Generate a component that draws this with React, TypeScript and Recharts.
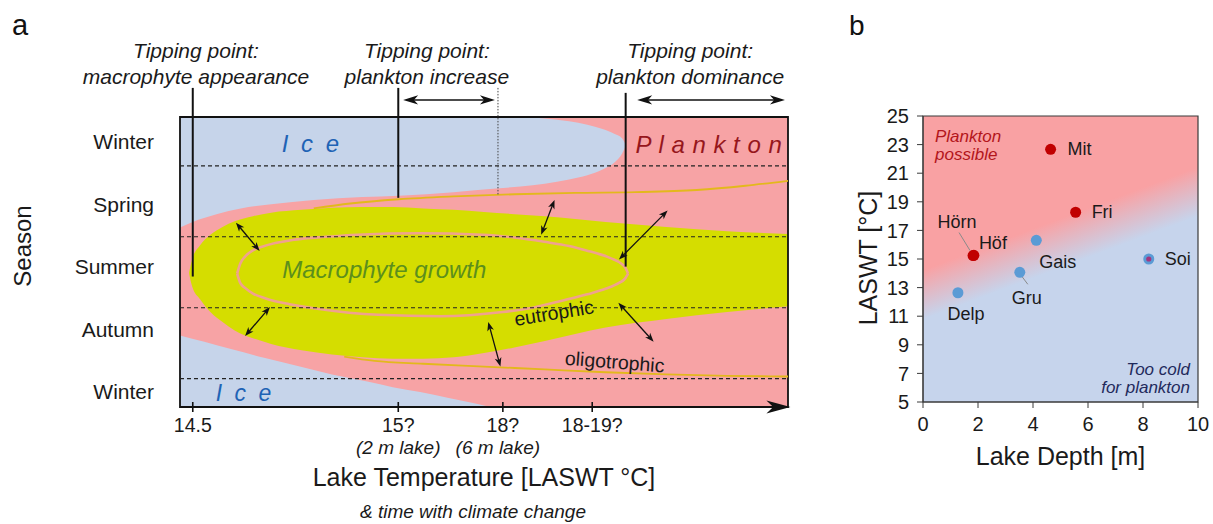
import React from 'react';
import {
  ComposedChart,
  ScatterChart,
  Area,
  Line,
  Scatter,
  XAxis,
  YAxis,
  ReferenceArea,
  ReferenceLine,
  ReferenceDot,
} from 'recharts';

const FONT = '"Liberation Sans", Arial, Helvetica, sans-serif';

const ICE = '#c6d4ea';
const PINK = '#f7a3a5';
const YELLOW = '#d5dd00';
const OLIGO = '#e3b81c';
const ELLIPSE = '#f0a28e';
const INK = '#1a1a1a';

// ---------- panel a (x: position along the temperature axis 0-100, y: season units) ----------
const seasonNames = ['Winter', 'Spring', 'Summer', 'Autumn', 'Winter'];
const seasonTicks = [0.65, 1.54, 2.42, 3.31, 4.18];
const seasonDividers = [1, 2, 3, 4];

const tempTicks = [2.1, 35.9, 53.1, 67.8];
const tempLabels = ['14.5', '15?', '18?', '18-19?'];
const tempNotes = ['', '(2 m lake)', '(6 m lake)', ''];

// [x, top, bottom]
const iceTop = [
  [0, 0.31, 1.87], [3, 0.31, 1.76], [6, 0.31, 1.68], [10, 0.31, 1.6], [15, 0.31, 1.54],
  [22, 0.31, 1.48], [30, 0.31, 1.44], [36, 0.31, 1.42], [45, 0.31, 1.37], [52, 0.31, 1.32],
  [56, 0.31, 1.29], [60, 0.33, 1.25], [64, 0.37, 1.19], [67, 0.42, 1.13], [69.5, 0.48, 1.05],
  [71.5, 0.55, 0.95], [72.7, 0.61, 0.83], [73.3, 0.7, 0.72],
];
const iceBottom = [
  [0, 3.39, 4.4], [4, 3.48, 4.4], [8.7, 3.59, 4.4], [14, 3.71, 4.4], [19.7, 3.83, 4.4],
  [25, 3.94, 4.4], [30.8, 4.04, 4.4], [35, 4.12, 4.4], [39.5, 4.19, 4.4], [44, 4.27, 4.4],
  [48, 4.34, 4.4], [51, 4.4, 4.4],
];
const macrophyte = [
  [1.5, 2.5, 2.52], [2.0, 2.32, 2.7], [3.3, 2.12, 2.88], [5, 1.97, 3.06], [7, 1.86, 3.2],
  [9, 1.78, 3.32], [12, 1.71, 3.43], [15, 1.66, 3.51], [20, 1.62, 3.6], [25, 1.59, 3.66],
  [30, 1.58, 3.7], [35, 1.58, 3.72], [40, 1.6, 3.72], [45, 1.62, 3.7], [50, 1.65, 3.64],
  [55, 1.68, 3.56], [60, 1.71, 3.47], [65, 1.75, 3.37], [70, 1.79, 3.28], [80, 1.86, 3.16],
  [90, 1.92, 3.06], [100, 1.96, 2.98],
];
// [x, y]
const eutrophicUpper = [
  [9.4, 2.52], [9.9, 2.38], [10.7, 2.28], [12, 2.19], [13.5, 2.14], [18.9, 2.04], [24, 2.0],
  [29.2, 1.97], [39.4, 1.95], [49.7, 1.97], [55, 2.01], [59.9, 2.07], [64, 2.13], [66.7, 2.19],
  [70.8, 2.3], [72.6, 2.38], [73.3, 2.44], [73.7, 2.52],
];
const eutrophicLower = [
  [9.4, 2.52], [9.9, 2.65], [10.7, 2.72], [12, 2.8], [14.1, 2.87], [18, 2.95], [22.3, 3.01],
  [32.6, 3.1], [42.8, 3.12], [53.1, 3.06], [58, 3.0], [63.3, 2.89], [67, 2.81], [70.1, 2.73],
  [72.2, 2.65], [73.2, 2.59], [73.7, 2.52],
];
const oligoUpper = [
  [22, 1.6], [28, 1.53], [36, 1.47], [45, 1.43], [55, 1.4], [65, 1.38], [75, 1.37], [85, 1.34],
  [93, 1.28], [100, 1.21],
];
const oligoLower = [
  [27, 3.69], [32, 3.75], [40, 3.79], [50, 3.83], [60, 3.87], [70, 3.91], [80, 3.94], [90, 3.96],
  [100, 3.97],
];

// tipping point markers [x, yTop, yBottom]
const tippingLines = [
  [2.1, -0.1, 2.56],
  [35.9, -0.1, 1.45],
  [73.3, -0.03, 2.42],
];
const tippingUncertain = [52.3, -0.1, 1.41];
// shift ranges at the top [xFrom, xTo, y]
const tippingRanges = [
  [36.7, 51.8, 0.07],
  [75.2, 99.5, 0.07],
];
// double arrows between the regimes [x1, y1, x2, y2]
const arrowSegments = [
  [9.2, 1.8, 13.1, 2.2],
  [14.8, 2.99, 10.7, 3.4],
  [61.6, 1.48, 59.4, 1.97],
  [80.2, 1.63, 72.2, 2.32],
  [72.1, 2.93, 77.9, 3.48],
  [50.7, 3.2, 52.7, 3.83],
];

// ---------- panel b ----------
const lakeNames = ['Mit', 'Fri', 'Hörn', 'Höf', 'Gais', 'Gru', 'Delp', 'Soi'];
const lakeDepths = [4.64, 5.55, 1.82, 1.85, 4.12, 3.52, 1.27, 8.21];
const lakeLaswt = [22.67, 18.27, 15.24, 15.26, 16.31, 14.07, 12.64, 15.0];
const lakeGroups = ['plankton', 'plankton', 'plankton', 'plankton', 'cold', 'cold', 'cold', 'cold'];
const depthTicks = [0, 2, 4, 6, 8, 10];
const laswtTicks = [5, 7, 9, 11, 13, 15, 17, 19, 21, 23, 25];

const rangeRows = (rows: number[][]) => rows.map(([x, lo, hi]) => ({ x, band: [lo, hi] }));
const pointRows = (rows: number[][]) => rows.map(([x, y]) => ({ x, y }));

const lakes = lakeNames.map((name, i) => ({
  name,
  x: lakeDepths[i],
  y: lakeLaswt[i],
  group: lakeGroups[i],
}));
const planktonLakes = lakes.filter((d) => d.group === 'plankton');
const coldLakes = lakes.filter((d) => d.group === 'cold');

const lakeLabelStyle: Record<string, any> = {
  Mit: { dx: 17, dy: 0, anchor: 'start' },
  Fri: { dx: 16, dy: 0, anchor: 'start' },
  Hörn: { dx: -16, dy: -34, anchor: 'middle', leader: [-14, -23, -3, -5] },
  Höf: { dx: 5, dy: -12, anchor: 'start' },
  Gais: { dx: 3, dy: 22, anchor: 'start' },
  Gru: { dx: 7, dy: 26, anchor: 'middle', leader: [2, 4, 8, 12] },
  Delp: { dx: 8, dy: 21, anchor: 'middle' },
  Soi: { dx: 16, dy: 0, anchor: 'start', core: '#a4367f' },
};

// ---------- shapes ----------
const headPath = (x: number, y: number, ux: number, uy: number, len: number, half: number) => {
  const bx = x - ux * len;
  const by = y - uy * len;
  const mx = x - ux * len * 0.72;
  const my = y - uy * len * 0.72;
  const nx = -uy;
  const ny = ux;
  return `M${x},${y}L${bx + nx * half},${by + ny * half}L${mx},${my}L${bx - nx * half},${by - ny * half}Z`;
};

const makeDoubleArrow = (len: number, half: number, width: number) => (props: any) => {
  const { x1, y1, x2, y2 } = props;
  const d = Math.hypot(x2 - x1, y2 - y1) || 1;
  const ux = (x2 - x1) / d;
  const uy = (y2 - y1) / d;
  return (
    <g>
      <line
        x1={x1 + ux * len * 0.6}
        y1={y1 + uy * len * 0.6}
        x2={x2 - ux * len * 0.6}
        y2={y2 - uy * len * 0.6}
        stroke="#111"
        strokeWidth={width}
      />
      <path d={headPath(x2, y2, ux, uy, len, half)} fill="#111" />
      <path d={headPath(x1, y1, -ux, -uy, len, half)} fill="#111" />
    </g>
  );
};
const SmallArrow = makeDoubleArrow(9, 3.4, 1.3);
const RangeArrow = makeDoubleArrow(15, 4.6, 1.6);

const AxisArrow = (props: any) => {
  const { x1, y1, x2, y2 } = props;
  return (
    <g>
      <line x1={x1} y1={y1} x2={x2 - 10} y2={y2} stroke="#111" strokeWidth={2} />
      <path d={headPath(x2, y2, 1, 0, 24, 6.5)} fill="#111" />
    </g>
  );
};

const textAt = (lines: string[], style: any, angle = 0, lineGap = 26) => (props: any) => {
  const vb = props.viewBox;
  const cx = vb.x + vb.width / 2;
  const cy = vb.y + vb.height / 2;
  const first = cy - ((lines.length - 1) * lineGap) / 2;
  return (
    <g transform={angle ? `rotate(${angle},${cx},${cy})` : undefined}>
      {lines.map((l, i) => (
        <text
          key={i}
          x={cx}
          y={first + i * lineGap}
          textAnchor="middle"
          dominantBaseline="central"
          fontFamily={FONT}
          {...style}
        >
          {l}
        </text>
      ))}
    </g>
  );
};

const TempTick = (props: any) => {
  const { x, y, payload } = props;
  const i = tempTicks.indexOf(payload.value);
  return (
    <g fontFamily={FONT}>
      <line x1={x} x2={x} y1={y - 16} y2={y - 6} stroke="#111" strokeWidth={1.6} />
      <text x={x} y={y + 14} textAnchor="middle" fontSize={19.5} fill={INK}>
        {tempLabels[i]}
      </text>
      {tempNotes[i] ? (
        <text x={x - (i === 2 ? 5 : 0)} y={y + 36} textAnchor="middle" fontSize={19} fontStyle="italic" fill={INK}>
          {tempNotes[i]}
        </text>
      ) : null}
    </g>
  );
};

const TempAxisTitle = (props: any) => {
  const { x, y, width } = props.viewBox;
  const cx = x + width / 2;
  return (
    <g fontFamily={FONT}>
      <text x={cx} y={y + 79} textAnchor="middle" fontSize={25} fill={INK}>
        Lake Temperature [LASWT °C]
      </text>
      <text x={cx - 11} y={y + 111} textAnchor="middle" fontSize={19} fontStyle="italic" fill={INK}>
        {'& time with climate change'}
      </text>
    </g>
  );
};

const SeasonTitle = (props: any) => {
  const { x, y } = props.viewBox;
  return (
    <text
      transform={`translate(${x + 22},${y + 229}) rotate(-90)`}
      textAnchor="middle"
      dominantBaseline="central"
      fontSize={24}
      fontFamily={FONT}
      fill={INK}
    >
      Season
    </text>
  );
};

const titleStyle = { fontSize: 21, fontStyle: 'italic', fill: INK };

function PanelA() {
  return (
    <ComposedChart width={840} height={524} margin={{ top: 17, right: 52, bottom: 0, left: 0 }}>
      <XAxis
        type="number"
        dataKey="x"
        domain={[0, 100]}
        allowDataOverflow
        ticks={tempTicks}
        interval={0}
        tick={TempTick}
        tickSize={0}
        tickMargin={11}
        tickLine={false}
        axisLine={false}
        height={117}
        label={{ content: TempAxisTitle }}
      />
      <YAxis
        type="number"
        domain={[-1.1, 4.4]}
        reversed
        allowDataOverflow
        ticks={seasonTicks}
        interval={0}
        tickFormatter={(v: number) => seasonNames[seasonTicks.indexOf(v)]}
        tick={{ fontSize: 21, fill: INK }}
        tickSize={0}
        tickMargin={26}
        tickLine={false}
        axisLine={false}
        width={180}
        label={{ content: SeasonTitle }}
      />
      <ReferenceArea x1={0} x2={100} y1={0.31} y2={4.4} fill={PINK} fillOpacity={1} stroke="none" />

      <Area data={rangeRows(iceTop)} dataKey="band" type="monotone" fill={ICE} fillOpacity={1} stroke="none" dot={false} activeDot={false} isAnimationActive={false} />
      <Area data={rangeRows(iceBottom)} dataKey="band" type="monotone" fill={ICE} fillOpacity={1} stroke="none" dot={false} activeDot={false} isAnimationActive={false} />
      <Area data={rangeRows(macrophyte)} dataKey="band" type="monotone" fill={YELLOW} fillOpacity={1} stroke="none" dot={false} activeDot={false} isAnimationActive={false} />

      <Line data={pointRows(oligoUpper)} dataKey="y" type="monotone" stroke={OLIGO} strokeWidth={1.8} dot={false} activeDot={false} isAnimationActive={false} />
      <Line data={pointRows(oligoLower)} dataKey="y" type="monotone" stroke={OLIGO} strokeWidth={1.8} dot={false} activeDot={false} isAnimationActive={false} />
      <Line data={pointRows(eutrophicUpper)} dataKey="y" type="monotone" stroke={ELLIPSE} strokeWidth={2.6} dot={false} activeDot={false} isAnimationActive={false} />
      <Line data={pointRows(eutrophicLower)} dataKey="y" type="monotone" stroke={ELLIPSE} strokeWidth={2.6} dot={false} activeDot={false} isAnimationActive={false} />

      {seasonDividers.map((s) => (
        <ReferenceLine key={s} y={s} stroke="#222" strokeWidth={1.1} strokeDasharray="4 3" />
      ))}
      <ReferenceArea x1={0} x2={100} y1={0.31} y2={4.4} fill="none" stroke="#111" strokeWidth={1.8} />
      <ReferenceLine
        segment={[{ x: 0, y: 4.4 }, { x: 100.4, y: 4.4 }]}
        ifOverflow="visible"
        shape={AxisArrow}
      />

      {tippingLines.map(([x, y1, y2]) => (
        <ReferenceLine key={x} segment={[{ x, y: y1 }, { x, y: y2 }]} stroke="#111" strokeWidth={2} />
      ))}
      <ReferenceLine
        segment={[{ x: tippingUncertain[0], y: tippingUncertain[1] }, { x: tippingUncertain[0], y: tippingUncertain[2] }]}
        stroke="#444"
        strokeWidth={1}
        strokeDasharray="1.5 1.5"
      />
      {tippingRanges.map(([a, b, y]) => (
        <ReferenceLine key={a} segment={[{ x: a, y }, { x: b, y }]} shape={RangeArrow} />
      ))}
      {arrowSegments.map(([x1, y1, x2, y2], i) => (
        <ReferenceLine key={i} segment={[{ x: x1, y: y1 }, { x: x2, y: y2 }]} shape={SmallArrow} />
      ))}

      <ReferenceDot x={2.63} y={-0.44} r={1} fill="none" stroke="none" label={{ content: textAt(['Tipping point:', 'macrophyte appearance'], titleStyle) }} />
      <ReferenceDot x={40.6} y={-0.44} r={1} fill="none" stroke="none" label={{ content: textAt(['Tipping point:', 'plankton increase'], titleStyle) }} />
      <ReferenceDot x={83.9} y={-0.44} r={1} fill="none" stroke="none" label={{ content: textAt(['Tipping point:', 'plankton dominance'], titleStyle) }} />

      <ReferenceDot x={21.7} y={0.69} r={1} fill="none" stroke="none" label={{ content: textAt(['I c e'], { fontSize: 24, fontStyle: 'italic', fill: '#1f63b5', letterSpacing: 3 }) }} />
      <ReferenceDot x={10.7} y={4.2} r={1} fill="none" stroke="none" label={{ content: textAt(['I c e'], { fontSize: 23, fontStyle: 'italic', fill: '#1f63b5', letterSpacing: 3 }) }} />
      <ReferenceDot x={87.0} y={0.7} r={1} fill="none" stroke="none" label={{ content: textAt(['P l a n k t o n'], { fontSize: 24, fontStyle: 'italic', fill: '#96161c', letterSpacing: 0.5 }) }} />
      <ReferenceDot x={33.6} y={2.46} r={1} fill="none" stroke="none" label={{ content: textAt(['Macrophyte growth'], { fontSize: 24, fontStyle: 'italic', fill: '#5c8f1c' }) }} />
      <ReferenceDot x={61.5} y={3.07} r={1} fill="none" stroke="none" label={{ content: textAt(['eutrophic'], { fontSize: 19.5, fill: INK }, -9) }} />
      <ReferenceDot x={71.5} y={3.76} r={1} fill="none" stroke="none" label={{ content: textAt(['oligotrophic'], { fontSize: 19.5, fill: INK }, 4.5) }} />
    </ComposedChart>
  );
}

const LakeDot = (props: any) => {
  const { cx, cy, payload } = props;
  const st = lakeLabelStyle[payload.name];
  const red = payload.group === 'plankton';
  return (
    <g>
      {st.leader ? (
        <line
          x1={cx + st.leader[0]}
          y1={cy + st.leader[1]}
          x2={cx + st.leader[2]}
          y2={cy + st.leader[3]}
          stroke="#8a8a8a"
          strokeWidth={1}
        />
      ) : null}
      <circle cx={cx} cy={cy} r={5.5} fill={red ? '#c00000' : '#5b9bd5'} />
      {st.core ? <circle cx={cx} cy={cy} r={2.6} fill={st.core} /> : null}
      <text
        x={cx + st.dx}
        y={cy + st.dy}
        textAnchor={st.anchor}
        dominantBaseline="central"
        fontSize={18}
        fontFamily={FONT}
        fill={INK}
      >
        {payload.name}
      </text>
    </g>
  );
};

const ZoneNotes = (props: any) => {
  const { x, y, width } = props.viewBox;
  return (
    <g fontFamily={FONT} fontStyle="italic" fontSize={17}>
      <text x={x + 12} y={y + 26} fill="#b3151b">Plankton</text>
      <text x={x + 12} y={y + 44} fill="#b3151b">possible</text>
      <text x={x + width - 8} y={y + 259} textAnchor="end" fill="#1f2a5c">Too cold</text>
      <text x={x + width - 8} y={y + 277} textAnchor="end" fill="#1f2a5c">for plankton</text>
    </g>
  );
};

const DepthTitle = (props: any) => {
  const { x, y, width } = props.viewBox;
  return (
    <text x={x + width / 2} y={y + 63} textAnchor="middle" fontSize={25} fontFamily={FONT} fill={INK}>
      Lake Depth [m]
    </text>
  );
};

const LaswtTitle = (props: any) => {
  const { x } = props.viewBox;
  return (
    <text
      transform={`translate(${x + 38},258) rotate(-90)`}
      textAnchor="middle"
      dominantBaseline="central"
      fontSize={25}
      fontFamily={FONT}
      fill={INK}
    >
      LASWT [°C]
    </text>
  );
};

function PanelB() {
  return (
    <ScatterChart width={383} height={524} margin={{ top: 116, right: 15, bottom: 0, left: 0 }}>
      <XAxis
        type="number"
        dataKey="x"
        domain={[0, 10]}
        allowDataOverflow
        ticks={depthTicks}
        interval={0}
        tick={{ fontSize: 20, fill: INK }}
        tickSize={6}
        tickMargin={9}
        stroke="#3a3a3a"
        height={122}
        label={{ content: DepthTitle }}
      />
      <YAxis
        type="number"
        dataKey="y"
        domain={[5, 25]}
        allowDataOverflow
        ticks={laswtTicks}
        interval={0}
        tick={{ fontSize: 20, fill: INK }}
        tickSize={6}
        tickMargin={8}
        stroke="#3a3a3a"
        width={93}
        label={{ content: LaswtTitle }}
      />
      <ReferenceArea
        x1={0}
        x2={10}
        y1={5}
        y2={25}
        fill="url(#planktonZone)"
        fillOpacity={1}
        stroke="#3a3a3a"
        strokeWidth={1.2}
        label={{ content: ZoneNotes }}
      />
      <Scatter data={coldLakes} shape={LakeDot} isAnimationActive={false} />
      <Scatter data={planktonLakes} shape={LakeDot} isAnimationActive={false} />
    </ScatterChart>
  );
}

export default function App() {
  return (
    <div
      style={{
        position: 'absolute',
        left: 0,
        top: 0,
        width: 1213,
        height: 524,
        background: '#fff',
        fontFamily: FONT,
        overflow: 'hidden',
      }}
    >
      <svg width={1213} height={524} style={{ position: 'absolute', left: 0, top: 0 }}>
        <defs>
          <linearGradient id="planktonZone" x1="0.347" y1="0.011" x2="0.653" y2="0.859">
            <stop offset="0" stopColor="#f9a1a3" />
            <stop offset="0.42" stopColor="#f9a1a3" />
            <stop offset="0.6" stopColor="#c6d4ec" />
            <stop offset="1" stopColor="#c6d4ec" />
          </linearGradient>
        </defs>
        <text x={12} y={35} fontSize={29} fill="#111" fontFamily={FONT}>
          a
        </text>
        <text x={849} y={35} fontSize={28} fill="#111" fontFamily={FONT}>
          b
        </text>
      </svg>
      <div style={{ position: 'absolute', left: 0, top: 0 }}>
        <PanelA />
      </div>
      <div style={{ position: 'absolute', left: 830, top: 0 }}>
        <PanelB />
      </div>
    </div>
  );
}
